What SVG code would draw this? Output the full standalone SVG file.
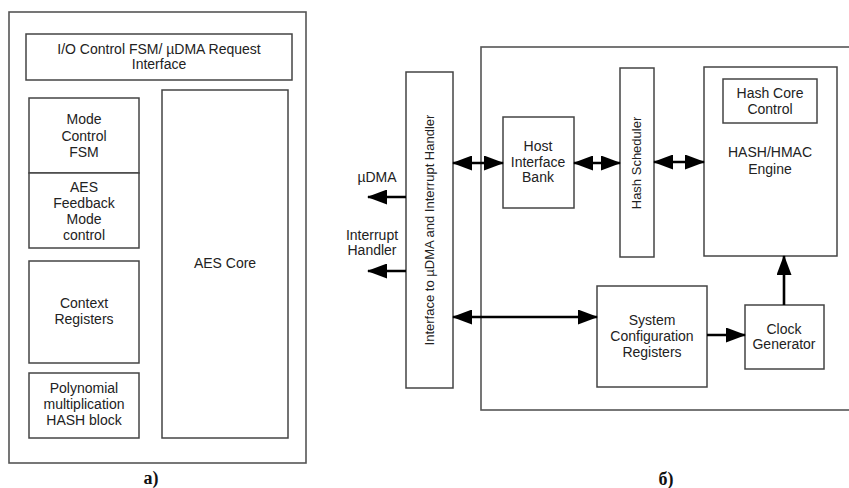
<svg xmlns="http://www.w3.org/2000/svg" width="849" height="488" viewBox="0 0 849 488">
<style>
.box{fill:#fff;stroke:#444;stroke-width:1.5}
.outer{fill:#fff;stroke:#555;stroke-width:1.6}
.t{font-family:"Liberation Sans",Arial,sans-serif;font-size:14px;fill:#222;text-anchor:middle}
.v{font-size:13px}
.cap{font-family:"Liberation Serif","Times New Roman",serif;font-size:18px;font-weight:bold;fill:#111;text-anchor:middle}
.ar{stroke:#000;stroke-width:2.6;fill:none}
</style>
<defs>
<marker id="ah" markerUnits="userSpaceOnUse" markerWidth="20" markerHeight="15" refX="19" refY="7.5" orient="auto-start-reverse" viewBox="0 0 20 15">
<path d="M0,0 L20,7.5 L0,15 z" fill="#000"/>
</marker>
</defs>
<rect width="849" height="488" fill="#fff"/>

<!-- Panel a -->
<g id="panel-a">
<rect class="outer" x="9" y="12" width="297" height="451"/>
</g>
<g id="io-control">
<rect class="box" x="26" y="34" width="266" height="46"/>
<text class="t" x="159" y="54">I/O Control FSM/ µDMA Request</text>
<text class="t" x="159" y="69">Interface</text>
</g>
<g id="mode-control">
<rect class="box" x="29" y="98" width="110" height="75"/>
<text class="t" x="84" y="124">Mode</text>
<text class="t" x="84" y="141">Control</text>
<text class="t" x="84" y="157">FSM</text>
</g>
<g id="aes-feedback">
<rect class="box" x="29" y="173" width="110" height="75"/>
<text class="t" x="84" y="192">AES</text>
<text class="t" x="84" y="208">Feedback</text>
<text class="t" x="84" y="224">Mode</text>
<text class="t" x="84" y="240">control</text>
</g>
<g id="context-registers">
<rect class="box" x="29" y="261" width="110" height="102"/>
<text class="t" x="84" y="308">Context</text>
<text class="t" x="84" y="324">Registers</text>
</g>
<g id="polynomial">
<rect class="box" x="29" y="373" width="110" height="65"/>
<text class="t" x="84" y="393">Polynomial</text>
<text class="t" x="84" y="409">multiplication</text>
<text class="t" x="84" y="425">HASH block</text>
</g>
<g id="aes-core">
<rect class="box" x="162" y="90" width="126" height="348"/>
<text class="t" x="225" y="268">AES Core</text>
</g>
<text class="cap" x="151" y="484">а)</text>

<!-- Panel b -->
<g id="panel-b">
<rect class="outer" x="481" y="47" width="380" height="363"/>
</g>
<g id="interface">
<rect class="box" x="406" y="72" width="47" height="316"/>
<text class="t v" transform="translate(434,230) rotate(-90)">Interface to µDMA and Interrupt Handler</text>
</g>
<g id="host-interface-bank">
<rect class="box" x="503" y="117" width="71" height="91"/>
<text class="t" x="538" y="151">Host</text>
<text class="t" x="538" y="167">Interface</text>
<text class="t" x="538" y="182">Bank</text>
</g>
<g id="hash-scheduler">
<rect class="box" x="620" y="68" width="34" height="189"/>
<text class="t v" transform="translate(641,163) rotate(-90)">Hash Scheduler</text>
</g>
<g id="hash-engine">
<rect class="box" x="704" y="67" width="133" height="189"/>
<text class="t" x="770" y="157">HASH/HMAC</text>
<text class="t" x="770" y="174">Engine</text>
</g>
<g id="hash-core-control">
<rect class="box" x="723" y="79" width="94" height="44"/>
<text class="t" x="770" y="98">Hash Core</text>
<text class="t" x="770" y="114">Control</text>
</g>
<g id="system-config">
<rect class="box" x="597" y="286" width="110" height="101"/>
<text class="t" x="652" y="325">System</text>
<text class="t" x="652" y="341">Configuration</text>
<text class="t" x="652" y="357">Registers</text>
</g>
<g id="clock-generator">
<rect class="box" x="745" y="305" width="79" height="64"/>
<text class="t" x="784" y="334">Clock</text>
<text class="t" x="784" y="349">Generator</text>
</g>
<g id="udma-label"><text class="t" x="377" y="182">µDMA</text></g>
<g id="interrupt-label">
<text class="t" x="372" y="240">Interrupt</text>
<text class="t" x="372" y="255">Handler</text>
</g>

<g id="connectors">
<line class="ar" x1="406" y1="197" x2="368" y2="197" marker-end="url(#ah)"/>
<line class="ar" x1="406" y1="271" x2="368" y2="271" marker-end="url(#ah)"/>
<line class="ar" x1="453" y1="163" x2="503" y2="163" marker-start="url(#ah)" marker-end="url(#ah)"/>
<line class="ar" x1="574" y1="163" x2="620" y2="163" marker-start="url(#ah)" marker-end="url(#ah)"/>
<line class="ar" x1="654" y1="162" x2="704" y2="162" marker-start="url(#ah)" marker-end="url(#ah)"/>
<line class="ar" x1="453" y1="317" x2="597" y2="317" marker-start="url(#ah)" marker-end="url(#ah)"/>
<line class="ar" x1="707" y1="335" x2="745" y2="335" marker-end="url(#ah)"/>
<line class="ar" x1="784" y1="305" x2="784" y2="256" marker-end="url(#ah)"/>
</g>
<text class="cap" x="666" y="485">б)</text>
</svg>
